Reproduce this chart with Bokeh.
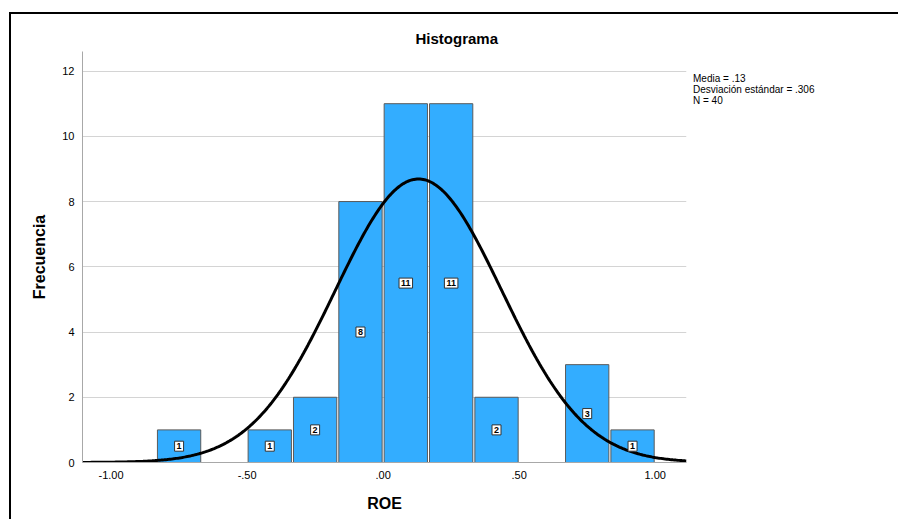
import numpy as np
from bokeh.plotting import figure
from bokeh.models import ColumnDataSource, Legend, LegendItem, FixedTicker
from bokeh.core.properties import value
from bokeh.embed import file_html
from bokeh.resources import INLINE

# ---- data ----
bin_centers = [-0.75, -0.5833, -0.4167, -0.25, -0.0833, 0.0833, 0.25, 0.4167, 0.5833, 0.75, 0.9167]
counts      = [1, 0, 1, 2, 8, 11, 11, 2, 0, 3, 1]
bin_width = 1.0 / 6.0
mean_val = 0.13
std_val = 0.306
n_val = 40
x_ticks = [-1.0, -0.5, 0.0, 0.5, 1.0]
x_tick_labels = ["-1.00", "-.50", ".00", ".50", "1.00"]
y_ticks = [0, 2, 4, 6, 8, 10, 12]
stats_lines = ["Media = .13", "Desviación estándar = .306", "N = 40"]

FONT = "Liberation Sans"

p = figure(frame_width=604, frame_height=411,
           x_range=(-1.105, 1.115), y_range=(0, 12.6),
           output_backend="svg", toolbar_location=None,
           min_border_left=71, min_border_top=37, min_border_right=210, min_border_bottom=57)
p.background_fill_color = "white"
p.border_fill_color = "white"
p.outline_line_color = None
p.margin = (12, 0, 0, 9)
p.styles = {"border-top": "2px solid black", "border-left": "2px solid black"}

# title
p.title.text = "Histograma"
p.title.text_font = FONT
p.title.text_font_size = "15px"
p.title.text_font_style = "bold"
p.title.text_color = "black"
p.title.align = "left"
p.title.offset = 333
p.title.standoff = 10

# grids
p.xgrid.visible = False
p.ygrid.ticker = FixedTicker(ticks=y_ticks)
p.ygrid.grid_line_color = "#d4d4d4"
p.ygrid.grid_line_width = 1

# axes
p.xaxis.ticker = FixedTicker(ticks=x_ticks)
p.xaxis.major_label_overrides = {t: l for t, l in zip(x_ticks, x_tick_labels)}
p.yaxis.ticker = FixedTicker(ticks=y_ticks)
for ax in (p.xaxis[0], p.yaxis[0]):
    ax.major_tick_out = 0
    ax.major_tick_in = 0
    ax.minor_tick_out = 0
    ax.minor_tick_in = 0
    ax.axis_line_color = "#a8a8a8"
    ax.axis_line_width = 1
    ax.major_label_text_font = FONT
    ax.major_label_text_font_size = "11px"
    ax.major_label_text_color = "black"
    ax.axis_label_text_font = FONT
    ax.axis_label_text_font_style = "bold"
    ax.axis_label_text_color = "black"
p.xaxis.axis_label = "ROE"
p.xaxis.axis_label_text_font_size = "16px"
p.xaxis.major_label_standoff = 8
p.xaxis.axis_label_standoff = 13
p.yaxis.axis_label = "Frecuencia"
p.yaxis.axis_label_text_font_size = "16px"
p.yaxis.major_label_standoff = 8
p.yaxis.axis_label_standoff = 11

# bars
bx = [c for c, n in zip(bin_centers, counts) if n > 0]
bh = [n for n in counts if n > 0]
src = ColumnDataSource(dict(x=bx, top=bh, mid=[h / 2 for h in bh], lab=[str(h) for h in bh]))
p.vbar(x="x", top="top", bottom=0, width=bin_width * 0.955, source=src,
       fill_color="#33adff", line_color="#5a5a5a", line_width=1)

# normal curve from the stated mean / sd / N
xs = np.linspace(-1.105, 1.115, 400)
ys = n_val * bin_width / (std_val * np.sqrt(2 * np.pi)) * np.exp(-0.5 * ((xs - mean_val) / std_val) ** 2)
p.line(xs, ys, line_color="black", line_width=3)

# count labels in bars
p.text(x="x", y="mid", text="lab", source=src,
       text_align="center", text_baseline="middle",
       text_font=value(FONT), text_font_size="9px", text_font_style="bold",
       text_color="black", padding=2,
       background_fill_color="white", border_line_color="#333333",
       border_line_width=1)

# stats text as a glyph-less legend in the right panel
dummy = p.line([0, 0], [0, 0], line_alpha=0)
items = [LegendItem(label=s, renderers=[dummy]) for s in stats_lines]
leg = Legend(items=items, location=(7, 356), orientation="vertical",
             glyph_width=0, glyph_height=11, label_height=11, label_standoff=0,
             spacing=0, padding=0, margin=0, border_line_color=None,
             background_fill_alpha=0,
             label_text_font=FONT, label_text_font_size="10px", label_text_color="black")
p.add_layout(leg, "right")

open("out.html", "w").write(file_html(p, INLINE))
